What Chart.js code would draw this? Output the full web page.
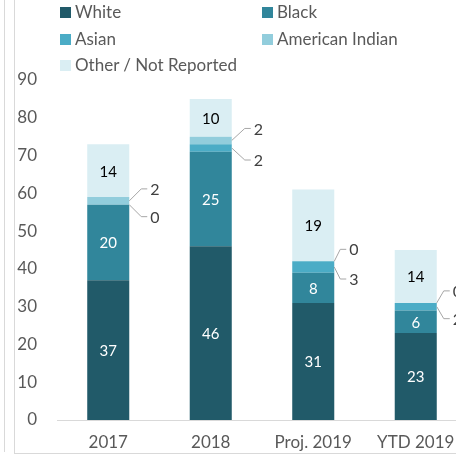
<!DOCTYPE html>
<html>
<head>
<meta charset="utf-8">
<script src="https://cdn.jsdelivr.net/npm/chart.js@4"></script>
<style>
  html, body { margin: 0; padding: 0; background: #fff; overflow: hidden; }
  #wrap { position: relative; width: 456px; height: 456px; overflow: hidden; }
  #frame1 { position: absolute; left: 4px; top: 0; width: 0; height: 452px; border-left: 1px solid #d9d9d9; }
  #frame2 { position: absolute; left: 14px; top: 0; width: 460px; height: 453px; border-left: 1px solid #d9d9d9; border-bottom: 1px solid #d9d9d9; }
  #chart { position: absolute; left: 0; top: 0; }
  #legend { position: absolute; left: 60px; top: 0; width: 400px; font-family: Lato, "Open Sans", sans-serif; font-size: 17px; color: #595959; }
  .item { position: absolute; white-space: nowrap; line-height: 20px; }
  .box { display: inline-block; width: 11px; height: 11px; margin-right: 4px; vertical-align: 0px; }
</style>
</head>
<body>
<div id="wrap">
  <div id="frame1"></div>
  <div id="frame2"></div>
  <canvas id="chart" width="470" height="456"></canvas>
  <div id="legend"></div>
</div>
<script>
const categories = ['2017', '2018', 'Proj. 2019', 'YTD 2019'];
const seriesNames = ['White', 'Black', 'Asian', 'American Indian', 'Other / Not Reported'];
const white = [37, 46, 31, 23];
const black = [20, 25, 8, 6];
const asian = [0, 2, 3, 2];
const americanIndian = [2, 2, 0, 0];
const other = [14, 10, 19, 14];
const yTicks = [0, 10, 20, 30, 40, 50, 60, 70, 80, 90];

const colors = ['#215a69', '#31869b', '#4bacc6', '#92cddc', '#daeef3'];
const values = [white, black, asian, americanIndian, other];
// how far right of each bar the callout text sits
const calloutDx = [21, 22, 15, 16];

// legend, two columns like the original
const legendEl = document.getElementById('legend');
seriesNames.forEach((name, i) => {
  const d = document.createElement('div');
  d.className = 'item';
  d.style.left = (i % 2 === 0 ? 0 : 202) + 'px';
  d.style.top = (2 + Math.floor(i / 2) * 26.5) + 'px';
  d.innerHTML = '<span class="box" style="background:' + colors[i] + '"></span>' + name;
  legendEl.appendChild(d);
});

const labelPlugin = {
  id: 'segLabels',
  afterDatasetsDraw(chart) {
    const ctx = chart.ctx;
    ctx.save();
    ctx.textAlign = 'center';
    ctx.textBaseline = 'middle';
    // labels inside the big segments
    [0, 1, 4].forEach((di) => {
      const meta = chart.getDatasetMeta(di);
      meta.data.forEach((bar, i) => {
        const v = values[di][i];
        const y = (bar.y + bar.base) / 2;
        ctx.font = '15px Lato, "Open Sans", sans-serif';
        ctx.fillStyle = di === 4 ? '#000000' : '#ffffff';
        ctx.fillText(String(v), bar.x, y + 1);
      });
    });
    // callouts for the thin segments
    ctx.strokeStyle = '#a6a6a6';
    ctx.lineWidth = 1;
    ctx.textAlign = 'left';
    ctx.font = '16px Lato, "Open Sans", sans-serif';
    ctx.fillStyle = '#404040';
    [[3, -12], [2, 12]].forEach(([di, off]) => {
      const meta = chart.getDatasetMeta(di);
      meta.data.forEach((bar, i) => {
        const x0 = bar.x + bar.width / 2;
        const y0 = (bar.y + bar.base) / 2;
        const ly = y0 + off;
        const dx = calloutDx[i];
        ctx.beginPath();
        ctx.moveTo(x0, y0);
        ctx.lineTo(x0 + dx - 9, ly);
        ctx.lineTo(x0 + dx - 3, ly);
        ctx.stroke();
        ctx.fillText(String(values[di][i]), x0 + dx, ly + 1);
      });
    });
    ctx.restore();
  }
};

new Chart(document.getElementById('chart'), {
  type: 'bar',
  data: {
    labels: categories,
    datasets: seriesNames.map((name, i) => ({
      label: name,
      data: values[i],
      backgroundColor: colors[i],
      borderWidth: 0,
      categoryPercentage: 1,
      barPercentage: 0.41,
    })),
  },
  plugins: [labelPlugin],
  options: {
    responsive: false,
    animation: false,
    layout: { padding: { top: 80, left: 0, right: 3, bottom: 0 } },
    plugins: {
      legend: { display: false },
      tooltip: { enabled: false },
    },
    scales: {
      x: {
        stacked: true,
        grid: { display: false, drawTicks: false },
        border: { display: true, color: '#d9d9d9', width: 1 },
        ticks: {
          color: '#595959',
          font: { family: 'Lato, "Open Sans", sans-serif', size: 17 },
          padding: 12,
          maxRotation: 0,
          autoSkip: false,
        },
        afterFit(s) { s.height = 36; },
      },
      y: {
        stacked: true,
        min: 0,
        max: 90,
        afterBuildTicks(s) { s.ticks = yTicks.map((v) => ({ value: v })); },
        grid: { display: false, drawTicks: false },
        border: { display: false },
        ticks: {
          color: '#595959',
          font: { family: 'Lato, "Open Sans", sans-serif', size: 17 },
          padding: 20,
        },
        afterFit(s) { s.width = 57; },
      },
    },
  },
});
</script>
</body>
</html>
